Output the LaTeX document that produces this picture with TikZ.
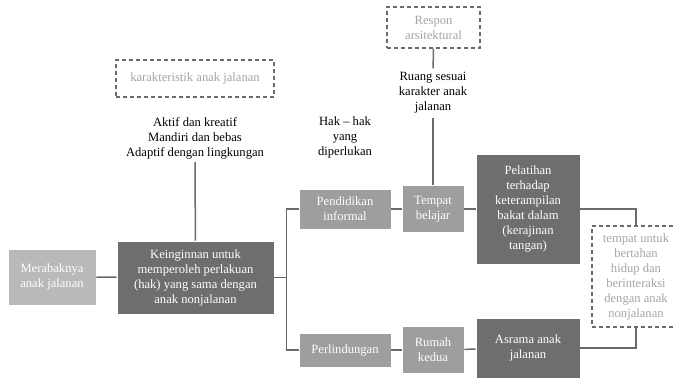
\documentclass[tikz,border=0pt]{standalone}
\usepackage{fontspec}
\setmainfont{Liberation Serif}
\definecolor{boxlite}{HTML}{B9B9B9}
\definecolor{boxmid}{HTML}{9E9E9E}
\definecolor{boxdark}{HTML}{6E6E6E}
\definecolor{linegray}{HTML}{6A6A6A}
\definecolor{notegray}{HTML}{A4A4A4}

\begin{document}
\begin{tikzpicture}[x=1pt,y=-1pt,font=\fontsize{12.6}{15}\selectfont,
  box/.style={text=white,align=center,inner sep=0pt,draw=white,line width=.6pt},
  lite/.style={box,fill=boxlite},
  mid/.style={box,fill=boxmid},
  dark/.style={box,fill=boxdark},
  note/.style={draw=linegray,dash pattern=on 4pt off 3pt,line width=1.2pt,
    text=notegray,align=center,inner sep=0pt},
  link/.style={draw=linegray,line width=1.5pt}]
  \useasboundingbox (0,0) rectangle (675,381);

  % main chain
  \node[lite,minimum width=88,minimum height=56] (mrb) at (52,277)
    {Merabaknya\\anak jalanan};
  \node[dark,minimum width=157,minimum height=73] (kgn) at (195.5,277.5)
    {Keinginnan untuk\\memperoleh perlakuan\\(hak) yang sama dengan\\anak nonjalanan};

  % upper branch
  \node[mid,minimum width=92,minimum height=40] (pdk) at (345,209)
    {Pendidikan\\informal};
  \node[mid,minimum width=62,minimum height=47] (tbl) at (433,209)
    {Tempat\\belajar};
  \node[dark,minimum width=104,minimum height=110] (plt) at (528,209)
    {Pelatihan\\terhadap\\keterampilan\\bakat dalam\\(kerajinan\\tangan)};

  % lower branch
  \node[mid,minimum width=92,minimum height=34] (plg) at (345,350)
    {Perlindungan};
  \node[mid,minimum width=62,minimum height=47] (rmh) at (433,350)
    {Rumah\\kedua};
  \node[dark,minimum width=104,minimum height=60] (asr) at (528,348)
    {Asrama anak\\jalanan};

  % dashed notes
  \node[note,minimum width=158,minimum height=37] (kar) at (195,78.5)
    {karakteristik anak jalanan};
  \node[note,minimum width=93,minimum height=41] (rsp) at (433.5,27.5)
    {Respon\\arsitektural};
  \node[note,minimum width=88,minimum height=101] (tmp) at (636,276.5)
    {tempat untuk\\bertahan\\hidup dan\\berinteraksi\\dengan anak\\nonjalanan};

  % plain texts
  \node[align=center,inner sep=3pt] (akt) at (195,138)
    {Aktif dan kreatif\\Mandiri dan bebas\\Adaptif dengan lingkungan};
  \node[align=center] (hak) at (345,137) {Hak -- hak\\yang\\diperlukan};
  \node[align=center,inner sep=4pt] (rng) at (433,93)
    {Ruang sesuai\\karakter anak\\jalanan};

  % connectors
  \draw[link] (mrb) -- (kgn);
  \draw[link] (akt) -- (kgn);
  \draw[link] (kgn.east) -- ++(12,0) |- (pdk.west);
  \draw[link] (kgn.east) -- ++(12,0) |- (plg.west);
  \draw[link] (pdk) -- (tbl);
  \draw[link] (tbl) -- (plt);
  \draw[link] (plg) -- (rmh);
  \draw[link] (rmh) -- (asr);
  \draw[link] (rsp) -- (rng);
  \draw[link] (rng) -- (tbl);
  \draw[link] (plt.east) -| (tmp.north);
  \draw[link] (asr.east) -| (tmp.south);
\end{tikzpicture}
\end{document}
